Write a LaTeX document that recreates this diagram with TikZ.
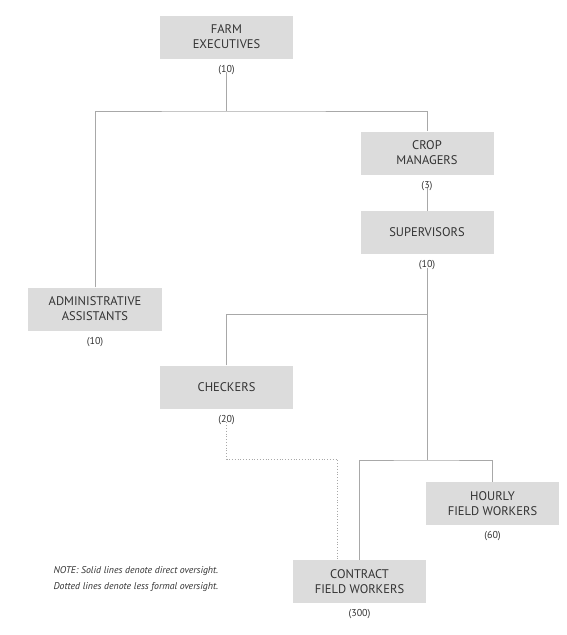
\documentclass[tikz,border=0pt]{standalone}
\usepackage{fontspec}
\setmainfont{PT Sans}
\usetikzlibrary{positioning}
\definecolor{boxgray}{HTML}{DCDCDC}
\definecolor{txtgray}{HTML}{333333}
\definecolor{linegray}{HTML}{A8A8A8}

\begin{document}
\begin{tikzpicture}[x=1pt,y=-1pt]
\tikzset{base/.style={text=txtgray, align=center, font=\fontsize{12.5}{15}\selectfont}, }
\tikzset{ruolo node/.style={base, fill=boxgray, minimum width=133pt, minimum height=43pt, inner sep=1pt}, }
\tikzset{numero/.style={text=txtgray, font=\fontsize{10}{12}\selectfont, inner sep=0pt}, }
\tikzset{linea/.style={draw=linegray, line width=0.8pt},}
\tikzset{lineapunti/.style={draw=linegray, line width=0.8pt, dotted},}
\tikzset{nota/.style={text=txtgray, align=left, anchor=west, font=\fontsize{9.8}{16}\selectfont\itshape},}

\useasboundingbox[fill=white] (0,0) rectangle (567,635);

% ruoli
\node[ruolo node] (exec) at (226.5,37) {FARM\\EXECUTIVES};
\node[ruolo node] (crop) at (427,153) {CROP\\MANAGERS};
\node[ruolo node] (sup) at (427,232.5) {SUPERVISORS};
\node[ruolo node, minimum width=134pt] (admin) at (95,309) {ADMINISTRATIVE\\ASSISTANTS};
\node[ruolo node] (checkers) at (226.5,387) {CHECKERS};
\node[ruolo node] (hourly) at (492.5,503.5) {HOURLY\\FIELD WORKERS};
\node[ruolo node] (contract) at (359.5,581.5) {CONTRACT\\FIELD WORKERS};

% numeri
\node[numero, below=6pt of exec] (execn) {(10)};
\node[numero, below=6pt of crop] (cropn) {(3)};
\node[numero, below=6pt of sup] (supn) {(10)};
\node[numero, below=6pt of admin] (adminn) {(10)};
\node[numero, below=6pt of checkers] (checkersn) {(20)};
\node[numero, below=6pt of hourly] (hourlyn) {(60)};
\node[numero, below=6pt of contract] (contractn) {(300)};

% giunzioni
\coordinate (jtop) at (226.5,111);
\coordinate (jchk) at (427,314);
\coordinate (jbot) at (427,460);
\coordinate (jdot) at (337,459);

\draw[linea] ([yshift=2pt]execn.south) -- (jtop);
\draw[linea] (admin.north) |- (jtop) -| (crop.north);
\draw[linea] ([yshift=2pt]cropn.south) -- (sup.north);
\draw[linea] ([yshift=2pt]supn.south) -- (jbot);
\draw[linea] (checkers.north) |- (jchk);
\draw[linea] (contract.north) |- (jbot) -| (hourly.north);
\draw[lineapunti] ([yshift=2pt]checkersn.south) |- (jdot) -- (jdot |- contract.north);

\node[nota] (nota) at (50,579) {NOTE: Solid lines denote direct oversight.\\Dotted lines denote less formal oversight.};
\end{tikzpicture}
\end{document}
